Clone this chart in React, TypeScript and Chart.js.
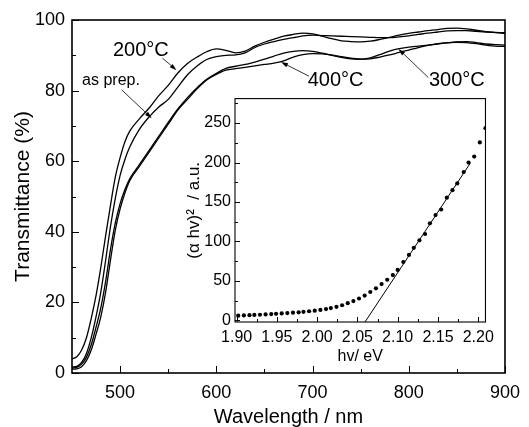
import React, { useEffect, useRef } from "react";
import { Chart, registerables } from "chart.js";
Chart.register(...registerables);

// ---------- main chart data ----------
const wavelength = [450, 455, 460, 465, 470, 475, 480, 485, 490, 495, 500, 505, 510,
  520, 530, 540, 550, 560, 570, 580, 590, 600, 610, 620, 630, 640, 650, 660, 670, 680, 690,
  700, 710, 720, 730, 740, 750, 760, 770, 780, 790, 800, 810, 820, 830, 840, 850, 860, 870,
  880, 890, 900];

const t200 = [4.0, 4.6, 6.5, 10, 15.5, 22, 30, 39, 47.5, 55.5, 61, 65.5, 68.5,
  72, 75, 78.5, 81.5, 85, 87.7, 89.5, 91, 91.8, 91.4, 90.7, 91.2, 92.6, 93.7, 94.6, 95.4, 95.9, 96.3,
  96.1, 95.4, 94.7, 94.1, 93.9, 93.8, 94.0, 94.5, 95.1, 95.7, 96.2, 96.6, 97.0, 97.3, 97.6, 97.7, 97.5, 97.1,
  96.7, 96.4, 96.2];

const tAsPrep = [1.7, 1.9, 3, 5.5, 10, 16, 23, 32, 41.5, 49.5, 56, 60.5, 64,
  69, 72.5, 75.3, 77.5, 81, 84.5, 87, 88.8, 89.6, 90, 90.1, 90.7, 92.2, 93.2, 93.9, 94.5, 95, 95.5,
  95.7, 95.6, 95.5, 95.4, 95.3, 95.2, 95.1, 95.0, 95.0, 95.2, 95.5, 95.9, 96.3, 96.6, 96.9, 97.0, 97.0, 96.8,
  96.6, 96.5, 96.4];

const t300 = [1.4, 1.6, 2.5, 4.5, 8, 13, 18.5, 26, 35, 42.5, 48, 52, 55,
  59, 63, 67, 71, 74.8, 78, 80.8, 83.2, 84.9, 86.3, 86.9, 87.4, 88.1, 88.9, 89.8, 90.6, 91.1, 91.3,
  91.1, 90.6, 90.0, 89.4, 89.0, 88.9, 89.3, 90.2, 91.2, 91.9, 92.3, 92.6, 92.9, 93.2, 93.5, 93.8, 93.9, 93.6,
  93.2, 93.0, 92.9];

const t400 = [1.1, 1.2, 1.8, 3.5, 6.5, 11, 16, 23, 32, 40.5, 46.5, 51, 54.5,
  58.5, 62.5, 66.5, 70.5, 74.5, 77.5, 80.5, 83, 84.6, 85.8, 86.2, 86.6, 87.0, 87.4, 87.8, 88.4, 89.5, 90.2,
  90.5, 90.4, 90.1, 89.6, 89.2, 88.9, 89.0, 89.5, 90.1, 90.8, 91.5, 92.2, 92.8, 93.3, 93.6, 93.7, 93.6, 93.3,
  92.9, 92.6, 92.5];

const xMajorTicks = [500, 600, 700, 800, 900];
const xMinorTicks = [550, 650, 750, 850];
const yMajorTicks = [0, 20, 40, 60, 80, 100];
const yMinorTicks = [10, 30, 50, 70, 90];

// annotation labels (data coordinates)
const labelTexts = ["200°C", "as prep.", "400°C", "300°C"];
const labelX = [521.5, 490.5, 724, 850];
const labelY = [91.5, 82.7, 83.0, 83.0];
const arrowFromX = [544, 501.7, 696.2, 820.3];
const arrowFromY = [89.2, 80.2, 84.1, 83.7];
const arrowToX = [558.6, 532.8, 667.2, 789.3];
const arrowToY = [85.8, 72.2, 88.1, 91.8];

// ---------- inset data ----------
const energy = [1.902, 1.909, 1.916, 1.922, 1.929, 1.936, 1.943, 1.949, 1.956, 1.963, 1.970, 1.977,
  1.983, 1.990, 1.997, 2.004, 2.011, 2.017, 2.024, 2.031, 2.038, 2.045, 2.052, 2.059, 2.066, 2.073,
  2.080, 2.087, 2.094, 2.100, 2.107, 2.114, 2.120, 2.127, 2.134, 2.140, 2.147, 2.154, 2.161, 2.168,
  2.174, 2.182, 2.188, 2.195, 2.202, 2.209];
const absorb = [6.0, 6.3, 6.6, 6.9, 7.2, 7.6, 8.0, 8.4, 8.8, 9.3, 9.8, 10.3, 10.9, 11.6, 12.4,
  13.3, 14.4, 15.6, 17.2, 19.2, 21.8, 24.5, 27.8, 31.5, 36.0, 40.6, 46.0, 51.5, 57.5, 64.0, 74.0,
  83.0, 92.0, 101.5, 109.5, 123.0, 133.5, 140.5, 155.5, 165.0, 173.5, 188.0, 200.0, 207.5, 225.5, 243.5];
const fitEnergy = [2.0594, 2.19];
const fitAbsorb = [-2, 199];

const insetXMajor = [1.9, 1.95, 2.0, 2.05, 2.1, 2.15, 2.2];
const insetXMinor = [1.925, 1.975, 2.025, 2.075, 2.125, 2.175];
const insetYMajor = [0, 50, 100, 150, 200, 250];
const insetYMinor = [25, 75, 125, 175, 225, 275];

const FONT = "'Liberation Sans', Arial, Helvetica, sans-serif";

function framePlugin(id: string, xMaj: number[], xMin: number[], yMaj: number[], yMin: number[],
  majLen: number, minLen: number, frameW: number) {
  return {
    id,
    afterDraw(chart: any) {
      const { ctx, chartArea: a, scales } = chart;
      ctx.save();
      ctx.strokeStyle = "#000";
      ctx.lineWidth = frameW;
      ctx.strokeRect(a.left, a.top, a.right - a.left, a.bottom - a.top);
      ctx.lineWidth = 1;
      ctx.beginPath();
      const xt = (v: number, len: number) => {
        const p = Math.round(scales.x.getPixelForValue(v)) + 0.5;
        ctx.moveTo(p, a.bottom);
        ctx.lineTo(p, a.bottom - len);
      };
      const yt = (v: number, len: number) => {
        const p = Math.round(scales.y.getPixelForValue(v)) + 0.5;
        ctx.moveTo(a.left, p);
        ctx.lineTo(a.left + len, p);
      };
      xMaj.forEach((v) => xt(v, majLen));
      xMin.forEach((v) => xt(v, minLen));
      yMaj.forEach((v) => yt(v, majLen));
      yMin.forEach((v) => yt(v, minLen));
      ctx.stroke();
      ctx.restore();
    },
  };
}

const annotationPlugin = {
  id: "annotations",
  afterDatasetsDraw(chart: any) {
    const { ctx, scales } = chart;
    const sx = scales.x, sy = scales.y;
    ctx.save();
    ctx.fillStyle = "#000";
    ctx.strokeStyle = "#000";
    ctx.textAlign = "center";
    ctx.textBaseline = "middle";
    labelTexts.forEach((t, i) => {
      ctx.font = (t === "as prep." ? "16px " : "20px ") + FONT;
      ctx.fillText(t, sx.getPixelForValue(labelX[i]), sy.getPixelForValue(labelY[i]));
      const x1 = sx.getPixelForValue(arrowFromX[i]);
      const y1 = sy.getPixelForValue(arrowFromY[i]);
      const x2 = sx.getPixelForValue(arrowToX[i]);
      const y2 = sy.getPixelForValue(arrowToY[i]);
      const ang = Math.atan2(y2 - y1, x2 - x1);
      const hl = 7, hw = 2.2;
      ctx.lineWidth = 0.8;
      ctx.beginPath();
      ctx.moveTo(x1, y1);
      ctx.lineTo(x2 - Math.cos(ang) * hl * 0.8, y2 - Math.sin(ang) * hl * 0.8);
      ctx.stroke();
      ctx.beginPath();
      ctx.moveTo(x2, y2);
      ctx.lineTo(x2 - Math.cos(ang) * hl - Math.sin(ang) * hw, y2 - Math.sin(ang) * hl + Math.cos(ang) * hw);
      ctx.lineTo(x2 - Math.cos(ang) * hl + Math.sin(ang) * hw, y2 - Math.sin(ang) * hl - Math.cos(ang) * hw);
      ctx.closePath();
      ctx.fill();
    });
    ctx.restore();
  },
};

function MainChart() {
  const ref = useRef<HTMLCanvasElement>(null);
  useEffect(() => {
    const mk = (vals: number[]) => ({
      data: wavelength.map((w, i) => ({ x: w, y: vals[i] })),
      borderColor: "#000",
      borderWidth: 1.3,
      pointRadius: 0,
      cubicInterpolationMode: "monotone" as const,
      fill: false,
    });
    const chart = new Chart(ref.current as HTMLCanvasElement, {
      type: "line",
      data: { datasets: [mk(t200), mk(tAsPrep), mk(t300), mk(t400)] },
      options: {
        animation: false,
        responsive: false,
        devicePixelRatio: 1,
        layout: { padding: { top: 20, right: 22, left: 0, bottom: 0 } },
        plugins: { legend: { display: false }, tooltip: { enabled: false } },
        scales: {
          x: {
            type: "linear",
            min: 450,
            max: 900,
            afterBuildTicks: (s: any) => { s.ticks = xMajorTicks.map((v) => ({ value: v })); },
            afterFit: (s: any) => { s.height = 54; },
            grid: { display: false, drawTicks: false },
            border: { display: false },
            ticks: { color: "#000", font: { family: FONT, size: 18 }, padding: 9, maxRotation: 0 },
            title: {
              display: true,
              text: "Wavelength / nm",
              color: "#000",
              font: { family: FONT, size: 20, lineHeight: 1 },
              padding: { top: 0, bottom: 0 },
            },
          },
          y: {
            type: "linear",
            min: 0,
            max: 100,
            afterBuildTicks: (s: any) => { s.ticks = yMajorTicks.map((v) => ({ value: v })); },
            afterFit: (s: any) => { s.width = 72; },
            grid: { display: false, drawTicks: false },
            border: { display: false },
            ticks: { color: "#000", font: { family: FONT, size: 18 }, padding: 7 },
            title: {
              display: true,
              text: "Transmittance (%)",
              color: "#000",
              font: { family: FONT, size: 21, lineHeight: 1 },
              padding: { top: 13, bottom: 0 },
            },
          },
        },
      },
      plugins: [framePlugin("mainFrame", xMajorTicks, xMinorTicks, yMajorTicks, yMinorTicks, 7, 4, 1.6), annotationPlugin],
    } as any);
    return () => chart.destroy();
  }, []);
  return <canvas ref={ref} width={529} height={427} style={{ width: 529, height: 427, display: "block" }} />;
}

function InsetChart() {
  const ref = useRef<HTMLCanvasElement>(null);
  useEffect(() => {
    const chart = new Chart(ref.current as HTMLCanvasElement, {
      type: "scatter",
      data: {
        datasets: [
          {
            data: energy.map((e, i) => ({ x: e, y: absorb[i] })),
            showLine: false,
            pointRadius: 2.1,
            pointBackgroundColor: "#000",
            pointBorderWidth: 0,
            borderColor: "#000",
          },
          {
            data: fitEnergy.map((e, i) => ({ x: e, y: fitAbsorb[i] })),
            showLine: true,
            pointRadius: 0,
            borderColor: "#000",
            borderWidth: 1,
          },
        ],
      },
      options: {
        animation: false,
        responsive: false,
        devicePixelRatio: 1,
        layout: { padding: { top: 9, right: 7, left: 0, bottom: 0 } },
        plugins: { legend: { display: false }, tooltip: { enabled: false } },
        scales: {
          x: {
            type: "linear",
            min: 1.898,
            max: 2.209,
            afterBuildTicks: (s: any) => { s.ticks = insetXMajor.map((v) => ({ value: v })); },
            afterFit: (s: any) => { s.height = 43; },
            grid: { display: false, drawTicks: false },
            border: { display: false },
            ticks: {
              color: "#000",
              font: { family: FONT, size: 16 },
              padding: 6,
              maxRotation: 0,
              callback: (v: any) => Number(v).toFixed(2),
            },
            title: {
              display: true,
              text: "hv/ eV",
              color: "#000",
              font: { family: FONT, size: 16, lineHeight: 1 },
              padding: { top: 0, bottom: 0 },
            },
          },
          y: {
            type: "linear",
            min: -2,
            max: 281,
            afterBuildTicks: (s: any) => { s.ticks = insetYMajor.map((v) => ({ value: v })); },
            afterFit: (s: any) => { s.width = 60; },
            grid: { display: false, drawTicks: false },
            border: { display: false },
            ticks: { color: "#000", font: { family: FONT, size: 16 }, padding: 4 },
            title: {
              display: true,
              text: "(α hv)²  / a.u.",
              color: "#000",
              font: { family: FONT, size: 17, lineHeight: 1 },
              padding: { top: 11, bottom: 0 },
            },
          },
        },
      },
      plugins: [framePlugin("insetFrame", insetXMajor, insetXMinor, insetYMajor, insetYMinor, 5, 3, 1.1)],
    } as any);
    return () => chart.destroy();
  }, []);
  return <canvas ref={ref} width={325} height={280} style={{ width: 325, height: 280, display: "block" }} />;
}

export default function App() {
  return (
    <div style={{ position: "absolute", left: 0, top: 0, width: 529, height: 427, background: "#fff" }}>
      <div style={{ position: "absolute", left: 0, top: 0 }}>
        <MainChart />
      </div>
      <div style={{ position: "absolute", left: 175, top: 85 }}>
        <InsetChart />
      </div>
    </div>
  );
}
